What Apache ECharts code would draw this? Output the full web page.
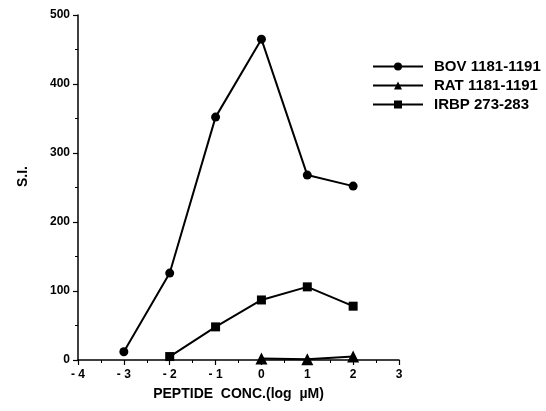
<!DOCTYPE html>
<html>
<head>
<meta charset="utf-8">
<script src="https://cdn.jsdelivr.net/npm/echarts@6/dist/echarts.min.js"></script>
<style>
  html, body { margin: 0; padding: 0; background: #fff; }
  #chart { width: 546px; height: 411px; }
</style>
</head>
<body>
<div id="chart"></div>
<script>
// log peptide concentration (uM) and stimulation index per peptide
var bovX = [-3, -2, -1, 0, 1, 2];
var bovY = [12, 126, 352, 465, 268, 252];
var ratX = [0, 1, 2];
var ratY = [2, 1, 5];
var irbpX = [-2, -1, 0, 1, 2];
var irbpY = [5, 48, 87, 106, 78];
var seriesNames = ["BOV 1181-1191", "RAT 1181-1191", "IRBP 273-283"];

function pairs(xs, ys) {
  var out = [];
  for (var i = 0; i < xs.length; i++) out.push([xs[i], ys[i]]);
  return out;
}

var font = "Liberation Sans, Arial, sans-serif";
var chart = echarts.init(document.getElementById("chart"));

function lineSeries(name, data, symbol, size) {
  return {
    name: name,
    type: "line",
    data: data,
    symbol: symbol,
    symbolSize: size,
    showAllSymbol: true,
    lineStyle: { color: "#000", width: 2 },
    itemStyle: { color: "#000" },
    animation: false
  };
}

chart.setOption({
  backgroundColor: "#fff",
  grid: { left: 78, right: 147, top: 15, bottom: 51 },
  legend: {
    orient: "vertical",
    left: 367,
    top: 54,
    itemWidth: 50,
    itemHeight: 10,
    itemGap: 4,
    textStyle: {
      color: "#000", fontFamily: font, fontWeight: "bold", fontSize: 15,
      padding: [0, 0, 0, 6]
    },
    data: seriesNames
  },
  xAxis: {
    type: "value",
    min: -4,
    max: 3,
    interval: 1,
    name: "PEPTIDE  CONC.(log  \u00b5M)",
    nameLocation: "middle",
    nameGap: 27,
    nameTextStyle: { color: "#000", fontFamily: font, fontWeight: "bold", fontSize: 14 },
    axisLine: { lineStyle: { color: "#000", width: 1.5 } },
    axisTick: { inside: false, length: 5, lineStyle: { color: "#000", width: 1.2 } },
    minorTick: { show: true, splitNumber: 2, length: 3, lineStyle: { color: "#000" } },
    splitLine: { show: false },
    axisLabel: {
      color: "#000", fontFamily: font, fontWeight: "bold", fontSize: 12, margin: 9,
      formatter: function (v) { return v < 0 ? "- " + Math.abs(v) : String(v); }
    }
  },
  yAxis: {
    type: "value",
    min: 0,
    max: 500,
    interval: 100,
    name: "S.I.",
    nameLocation: "middle",
    nameGap: 48,
    nameTextStyle: {
      color: "#000", fontFamily: font, fontWeight: "bold", fontSize: 14,
      padding: [0, 0, 0, 22]
    },
    axisLine: { show: true, onZero: false, lineStyle: { color: "#000", width: 1.5 } },
    axisTick: { show: true, length: 5, lineStyle: { color: "#000", width: 1.2 } },
    minorTick: { show: true, splitNumber: 2, length: 3, lineStyle: { color: "#000" } },
    splitLine: { show: false },
    axisLabel: { color: "#000", fontFamily: font, fontWeight: "bold", fontSize: 12, margin: 8 }
  },
  series: [
    lineSeries(seriesNames[0], pairs(bovX, bovY), "circle", 9),
    lineSeries(seriesNames[1], pairs(ratX, ratY), "triangle", 12),
    lineSeries(seriesNames[2], pairs(irbpX, irbpY), "rect", 9)
  ]
});
</script>
</body>
</html>
